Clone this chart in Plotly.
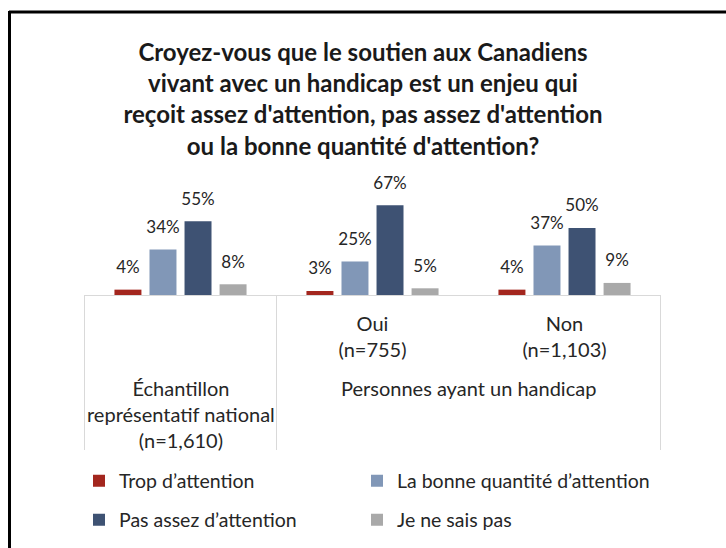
import plotly.graph_objects as go

# ---- data ----
categories = ["Échantillon représentatif national (n=1,610)", "Oui (n=755)", "Non (n=1,103)"]
inner_tick_text = ["", "Oui<br>(n=755)", "Non<br>(n=1,103)"]
outer_labels = ["Échantillon<br>représentatif national<br>(n=1,610)", "Personnes ayant un handicap"]
outer_positions = [0, 1.5]          # category-index centres of the outer groups
divider_positions = [-0.5, 0.5, 2.5]

series_names = ["Trop d’attention", "La bonne quantité d’attention",
                "Pas assez d’attention", "Je ne sais pas"]
trop = [4, 3, 4]
bonne = [34, 25, 37]
pas_assez = [55, 67, 50]
ne_sais_pas = [8, 5, 9]

colors = ["#A3261E", "#8197B7", "#3E5273", "#A9A9A9"]
legend_ids = ["legend", "legend2", "legend3", "legend4"]

title_text = ("<b>Croyez-vous que le soutien aux Canadiens<br>"
              "vivant avec un handicap est un enjeu qui<br>"
              "reçoit assez d'attention, pas assez d'attention<br>"
              "ou la bonne quantité d'attention?</b>")

FONT = "Lato, 'Open Sans', sans-serif"
TXT = "#262626"
GRID = "#D9D9D9"

W, H = 726, 548
L, R, T, B = 84, 726 - 661, 160, 548 - 295
plot_w = W - L - R
plot_h = H - T - B


def px_x(px):
    return (px - L) / plot_w


def px_y(py):
    return (H - B - py) / plot_h


fig = go.Figure()
all_vals = [trop, bonne, pas_assez, ne_sais_pas]
for i, (name, vals, col, lg) in enumerate(zip(series_names, all_vals, colors, legend_ids)):
    fig.add_trace(go.Bar(
        x=categories, y=vals, name=name, offsetgroup=str(i),
        marker=dict(color=col, line=dict(width=0)),
        legend=lg, hoverinfo="y",
    ))
for i, vals in enumerate(all_vals):
    fig.add_trace(go.Scatter(
        x=categories, y=vals, offsetgroup=str(i), mode="markers+text",
        marker=dict(size=18, color="rgba(0,0,0,0)"),
        text=[f"{v}%" for v in vals], textposition="top center",
        textfont=dict(size=17, color=TXT, family=FONT),
        cliponaxis=False, showlegend=False, hoverinfo="skip",
    ))

legend_pos = [(79, 481), (357, 481), (79, 520), (357, 520)]
legend_cfg = {}
for lg, (lx, ly) in zip(legend_ids, legend_pos):
    legend_cfg[lg] = dict(orientation="h", xref="container", yref="container",
                          x=lx / W, xanchor="left", y=1 - ly / H, yanchor="middle",
                          font=dict(size=19.5, color=TXT, family=FONT),
                          bgcolor="rgba(0,0,0,0)", borderwidth=0)

fig.update_layout(
    width=W, height=H,
    margin=dict(l=L, r=R, t=T, b=B, autoexpand=False),
    paper_bgcolor="white", plot_bgcolor="white",
    font=dict(family=FONT, color=TXT, size=20),
    barmode="group", bargap=0.27, bargroupgap=0.23,
    scattermode="group", scattergap=0.27,
    title=dict(text=title_text, x=0.5, xanchor="center", xref="container",
               y=1 - 61 / H, yanchor="top", yref="container",
               font=dict(size=24, family=FONT, color="#1a1a1a")),
    xaxis=dict(type="category", showline=True, linecolor=GRID, linewidth=1,
               ticks="outside", ticklen=11, tickcolor="rgba(0,0,0,0)",
               tickmode="array", tickvals=categories, ticktext=inner_tick_text,
               showgrid=False, automargin=False,
               tickfont=dict(size=20, color=TXT, family=FONT)),
    yaxis=dict(range=[0, 100.7], visible=False, showgrid=False, zeroline=False,
               automargin=False),
    showlegend=True,
    **legend_cfg,
)

# outer-level category labels
for txt, xpos in zip(outer_labels, outer_positions):
    fig.add_annotation(text=txt, x=xpos, xref="x", y=px_y(374), yref="paper",
                       xanchor="center", yanchor="top", showarrow=False,
                       font=dict(size=20, color=TXT, family=FONT))

# category dividers
for xd in divider_positions:
    fig.add_shape(type="line", xref="x", yref="paper", x0=xd, x1=xd,
                  y0=0, y1=px_y(450), line=dict(color=GRID, width=1))

# outer frame (top and left border visible in reference)
fig.add_shape(type="line", xref="paper", yref="paper",
              x0=px_x(9), x1=px_x(740), y0=px_y(12), y1=px_y(12),
              line=dict(color="black", width=3))
fig.add_shape(type="line", xref="paper", yref="paper",
              x0=px_x(9.5), x1=px_x(9.5), y0=px_y(11), y1=px_y(560),
              line=dict(color="black", width=3))

fig.write_html("out.html",
               config={"displayModeBar": False},
               post_script="document.body.style.margin='0px';"
                           "document.body.style.overflow='hidden';")
